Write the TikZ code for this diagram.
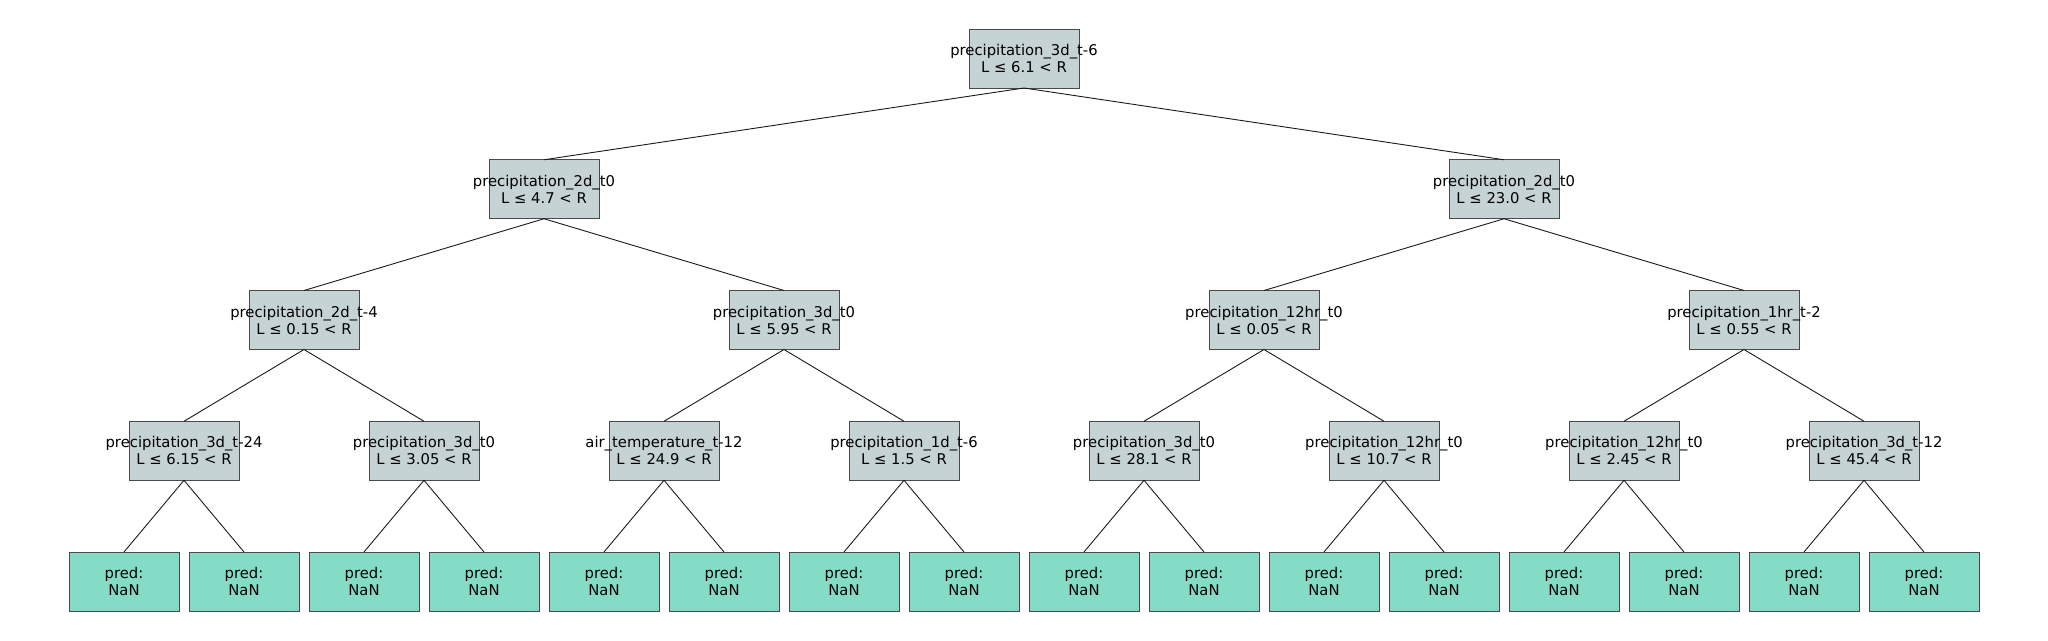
\documentclass[tikz,border=0pt]{standalone}
\usepackage{fontspec}
\setmainfont{DejaVu Sans}
\definecolor{decfill}{HTML}{C6D3D4}
\definecolor{leaffill}{HTML}{85DCC6}
\definecolor{boxline}{HTML}{4A4A4A}
\definecolor{edgeline}{HTML}{1A1A1A}
\tikzset{
  box/.style={draw=boxline, line width=1pt, minimum width=110pt, minimum height=59pt, inner sep=0pt, outer sep=0pt},
  dec/.style={box, fill=decfill},
  leaf/.style={box, fill=leaffill},
  txt/.style={align=center, inner sep=0pt, font=\fontsize{14.8}{17}\selectfont, text=black},
  edge/.style={draw=edgeline, line width=0.9pt}
}
\begin{document}
\begin{tikzpicture}[x=1pt,y=-1pt]
\useasboundingbox (0,0) rectangle (2048,640);
% decision nodes
\node[dec] (n0) at (1024,58.5) {};
\node[dec] (n1) at (544,189.25) {};
\node[dec] (n2) at (1504,189.25) {};
\node[dec] (n3) at (304,320) {};
\node[dec] (n4) at (784,320) {};
\node[dec] (n5) at (1264,320) {};
\node[dec] (n6) at (1744,320) {};
\node[dec] (n7) at (184,450.75) {};
\node[dec] (n8) at (424,450.75) {};
\node[dec] (n9) at (664,450.75) {};
\node[dec] (n10) at (904,450.75) {};
\node[dec] (n11) at (1144,450.75) {};
\node[dec] (n12) at (1384,450.75) {};
\node[dec] (n13) at (1624,450.75) {};
\node[dec] (n14) at (1864,450.75) {};
% leaves
\foreach \i in {0,...,15} {
  \node[leaf] (l\i) at ({124+120*\i},581.5) {};
  \node[txt] (lt\i) at (l\i) {pred:\\NaN};
}
% texts
\node[txt] (t0) at (n0) {precipitation\_3d\_t-6\\L ≤ 6.1 < R};
\node[txt] (t1) at (n1) {precipitation\_2d\_t0\\L ≤ 4.7 < R};
\node[txt] (t2) at (n2) {precipitation\_2d\_t0\\L ≤ 23.0 < R};
\node[txt] (t3) at (n3) {precipitation\_2d\_t-4\\L ≤ 0.15 < R};
\node[txt] (t4) at (n4) {precipitation\_3d\_t0\\L ≤ 5.95 < R};
\node[txt] (t5) at (n5) {precipitation\_12hr\_t0\\L ≤ 0.05 < R};
\node[txt] (t6) at (n6) {precipitation\_1hr\_t-2\\L ≤ 0.55 < R};
\node[txt] (t7) at (n7) {precipitation\_3d\_t-24\\L ≤ 6.15 < R};
\node[txt] (t8) at (n8) {precipitation\_3d\_t0\\L ≤ 3.05 < R};
\node[txt] (t9) at (n9) {air\_temperature\_t-12\\L ≤ 24.9 < R};
\node[txt] (t10) at (n10) {precipitation\_1d\_t-6\\L ≤ 1.5 < R};
\node[txt] (t11) at (n11) {precipitation\_3d\_t0\\L ≤ 28.1 < R};
\node[txt] (t12) at (n12) {precipitation\_12hr\_t0\\L ≤ 10.7 < R};
\node[txt] (t13) at (n13) {precipitation\_12hr\_t0\\L ≤ 2.45 < R};
\node[txt] (t14) at (n14) {precipitation\_3d\_t-12\\L ≤ 45.4 < R};
% edges
\draw[edge] (n0.south) -- (n1.north);
\draw[edge] (n0.south) -- (n2.north);
\draw[edge] (n1.south) -- (n3.north);
\draw[edge] (n1.south) -- (n4.north);
\draw[edge] (n2.south) -- (n5.north);
\draw[edge] (n2.south) -- (n6.north);
\draw[edge] (n3.south) -- (n7.north);
\draw[edge] (n3.south) -- (n8.north);
\draw[edge] (n4.south) -- (n9.north);
\draw[edge] (n4.south) -- (n10.north);
\draw[edge] (n5.south) -- (n11.north);
\draw[edge] (n5.south) -- (n12.north);
\draw[edge] (n6.south) -- (n13.north);
\draw[edge] (n6.south) -- (n14.north);
\draw[edge] (n7.south) -- (l0.north);
\draw[edge] (n7.south) -- (l1.north);
\draw[edge] (n8.south) -- (l2.north);
\draw[edge] (n8.south) -- (l3.north);
\draw[edge] (n9.south) -- (l4.north);
\draw[edge] (n9.south) -- (l5.north);
\draw[edge] (n10.south) -- (l6.north);
\draw[edge] (n10.south) -- (l7.north);
\draw[edge] (n11.south) -- (l8.north);
\draw[edge] (n11.south) -- (l9.north);
\draw[edge] (n12.south) -- (l10.north);
\draw[edge] (n12.south) -- (l11.north);
\draw[edge] (n13.south) -- (l12.north);
\draw[edge] (n13.south) -- (l13.north);
\draw[edge] (n14.south) -- (l14.north);
\draw[edge] (n14.south) -- (l15.north);
\end{tikzpicture}
\end{document}
